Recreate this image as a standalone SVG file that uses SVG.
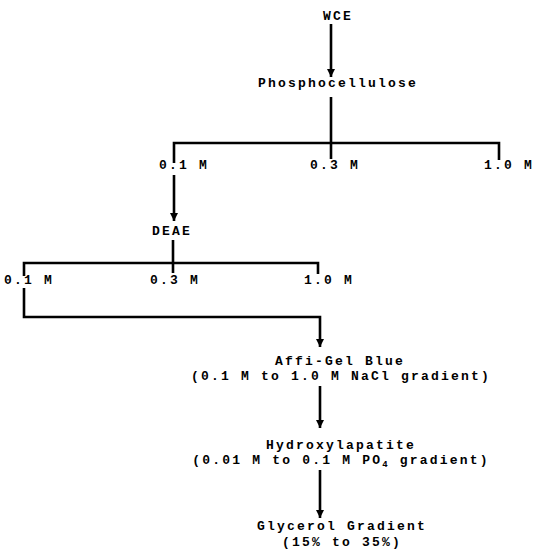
<svg xmlns="http://www.w3.org/2000/svg" width="536" height="554" viewBox="0 0 536 554">
<style>
text{font-family:"Liberation Mono","Courier New",monospace;font-weight:bold;font-size:13px;letter-spacing:2.2px;fill:#000}
.c{text-anchor:middle}
.ln{stroke:#000;stroke-width:2.6;fill:none}
</style>
<defs>
<marker id="ah" viewBox="0 0 8 10" refX="8" refY="5" markerWidth="8" markerHeight="10" markerUnits="userSpaceOnUse" orient="auto">
<path d="M0,1 L8,5 L0,9 z" fill="#000"/>
</marker>
</defs>
<rect width="536" height="554" fill="#fff"/>
<g id="connectors">
<line class="ln" x1="331" y1="24" x2="331" y2="77" marker-end="url(#ah)"/>
<line class="ln" x1="331" y1="97" x2="331" y2="159"/>
<polyline class="ln" points="174,163 174,143 499,143 499,160"/>
<line class="ln" x1="174" y1="175" x2="174" y2="221" marker-end="url(#ah)"/>
<line class="ln" x1="173" y1="240" x2="173" y2="273"/>
<polyline class="ln" points="24,276 24,263 318,263 318,274"/>
<polyline class="ln" points="24,288 24,317 320,317 320,347" marker-end="url(#ah)"/>
<line class="ln" x1="320" y1="386" x2="320" y2="428" marker-end="url(#ah)"/>
<line class="ln" x1="320" y1="470" x2="320" y2="518" marker-end="url(#ah)"/>
</g>
<g id="wce"><text class="c" x="338" y="20">WCE</text></g>
<g id="phosphocellulose"><text class="c" x="338" y="87">Phosphocellulose</text></g>
<g id="pc-01"><text x="159" y="169">0.1 M</text></g>
<g id="pc-03"><text x="310" y="169">0.3 M</text></g>
<g id="pc-10"><text x="484" y="169">1.0 M</text></g>
<g id="deae"><text class="c" x="172" y="235">DEAE</text></g>
<g id="de-01"><text x="4" y="284">0.1 M</text></g>
<g id="de-03"><text x="150" y="284">0.3 M</text></g>
<g id="de-10"><text x="304" y="284">1.0 M</text></g>
<g id="affigel"><text class="c" x="340" y="365">Affi-Gel Blue</text><text class="c" x="341" y="380">(0.1 M to 1.0 M NaCl gradient)</text></g>
<g id="hydroxylapatite"><text class="c" x="341" y="449">Hydroxylapatite</text><text class="c" x="341" y="464">(0.01 M to 0.1 M PO<tspan font-size="9" dy="3">4</tspan><tspan dy="-3"> gradient)</tspan></text></g>
<g id="glycerol"><text class="c" x="342" y="530">Glycerol Gradient</text><text class="c" x="342" y="546">(15% to 35%)</text></g>
</svg>
